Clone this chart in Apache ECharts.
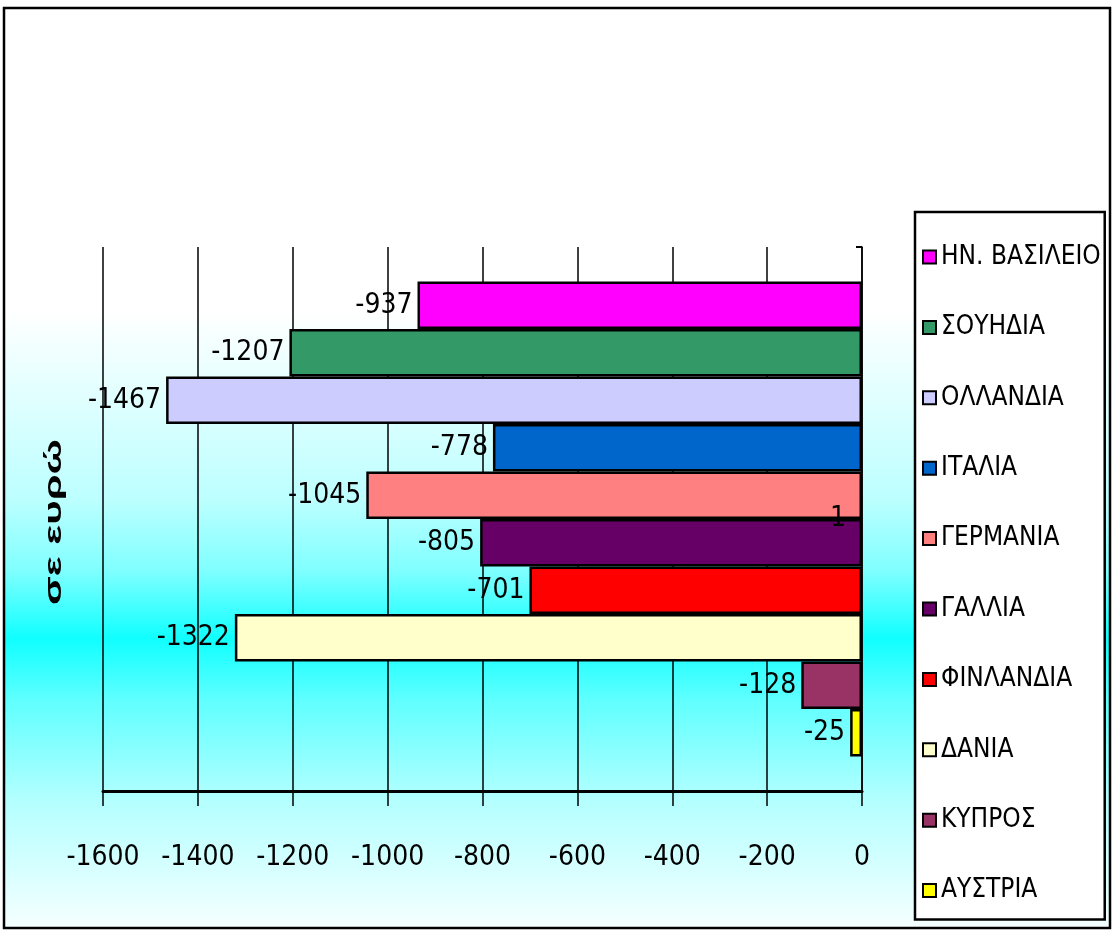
<!DOCTYPE html>
<html>
<head>
<meta charset="utf-8">
<script src="https://cdn.jsdelivr.net/npm/echarts@6/dist/echarts.min.js"></script>
<style>html,body{margin:0;padding:0;background:#fff;}#c{width:1113px;height:932px;}</style>
</head>
<body>
<div id="c"></div>
<script>
const categories = ['1'];
const countries = ['ΗΝ. ΒΑΣΙΛΕΙΟ','ΣΟΥΗΔΙΑ','ΟΛΛΑΝΔΙΑ','ΙΤΑΛΙΑ','ΓΕΡΜΑΝΙΑ','ΓΑΛΛΙΑ','ΦΙΝΛΑΝΔΙΑ','ΔΑΝΙΑ','ΚΥΠΡΟΣ','ΑΥΣΤΡΙΑ'];
const values = [-937,-1207,-1467,-778,-1045,-805,-701,-1322,-128,-25];
const colors = ['#FF00FF','#339966','#CCCCFF','#0066CC','#FF8080','#660066','#FF0000','#FFFFCC','#993366','#FFFF00'];
const xTicks = {min:-1600, max:0, interval:200};
const yAxisName = 'σε ευρώ';

const FONT = '"Liberation Sans Narrow","Arial Narrow","DejaVu Sans Condensed",sans-serif';
const chart = echarts.init(document.getElementById('c'), null, {renderer:'canvas'});

const series = countries.map((name,i)=>({
  name: name,
  type: 'bar',
  data: [values[i]],
  barGap: '0%',
  barCategoryGap: '12.7%',
  itemStyle: {color: colors[i], borderColor:'#000', borderWidth:2.5},
  label: {show:true, position:'left', distance:5, color:'#000', fontFamily:FONT, fontSize:28},
  emphasis:{disabled:true}
}));

chart.setOption({
  animation:false,
  backgroundColor:'#fff',
  graphic:[
    {type:'rect', z:-10, silent:true, shape:{x:4,y:8,width:1106,height:920},
     style:{fill:new echarts.graphic.LinearGradient(0,0,0,1,[
       {offset:0,color:'#ffffff'},{offset:0.33,color:'#ffffff'},
       {offset:0.426,color:'#e0ffff'},{offset:0.535,color:'#bcffff'},
       {offset:0.611,color:'#80ffff'},{offset:0.685,color:'#10ffff'},
       {offset:0.752,color:'#60ffff'},{offset:0.861,color:'#b4ffff'},
       {offset:1,color:'#f6ffff'}]),
       stroke:'#000', lineWidth:2.5}},
    {type:'text', silent:true, x:54, y:522, rotation:Math.PI/2, scaleX:1.75, scaleY:1,
     style:{text:yAxisName, fontFamily:'"Liberation Sans",Arial,sans-serif', fontWeight:'bold', fontSize:24,
       fill:'#000', align:'center', verticalAlign:'middle'}}
  ],
  grid:{left:103, right:251, top:247, bottom:141, containLabel:false},
  legend:{
    orient:'vertical', left:915, top:212,
    backgroundColor:'#fff', borderColor:'#000', borderWidth:2.5,
    padding:[30,4,14,7], itemGap:40.4, itemWidth:13, itemHeight:13,
    icon:'rect',
    textStyle:{fontFamily:FONT, fontSize:26, lineHeight:30, color:'#000'},
    data:countries, selectedMode:false
  },
  xAxis:{
    type:'value', min:xTicks.min, max:xTicks.max, interval:xTicks.interval,
    axisLine:{show:true, onZero:false, lineStyle:{color:'#000', width:3}},
    axisTick:{show:true, length:15, lineStyle:{color:'#000', width:1.5}},
    axisLabel:{margin:53, color:'#000', fontFamily:FONT, fontSize:28, formatter:(v)=>String(v)},
    splitLine:{show:true, lineStyle:{color:'#000', width:1.5}}
  },
  yAxis:{
    type:'category', data:categories, position:'right', z:10,
    axisLine:{show:true, lineStyle:{color:'#000', width:1.5}},
    axisTick:{show:true, inside:true, length:6, lineStyle:{color:'#000', width:2}},
    axisLabel:{inside:true, margin:16, color:'#000', fontFamily:FONT, fontSize:28},
    splitLine:{show:false}
  },
  series: series
});
</script>
</body>
</html>
